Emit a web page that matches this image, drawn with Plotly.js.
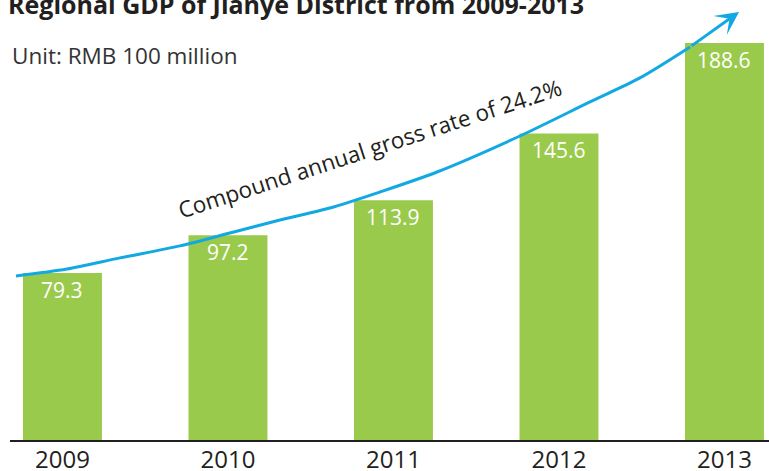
<!DOCTYPE html>
<html>
<head>
<meta charset="utf-8">
<script src="https://cdn.plot.ly/plotly-3.0.1.min.js"></script>
<style>html,body{margin:0;padding:0;background:#fff;}#chart{width:769px;height:471px;}</style>
</head>
<body>
<div id="chart"></div>
<script>
// Data
var years = ['2009', '2010', '2011', '2012', '2013'];
var gdp = [79.3, 97.2, 113.9, 145.6, 188.6];
var valueLabels = ['79.3', '97.2', '113.9', '145.6', '188.6'];
// growth arrow path (x in year index units, y in value units)
var curveX = [-0.281, 0.027, 0.347, 0.710, 1.012, 1.314, 1.616, 1.918, 2.263, 2.764, 3.187, 3.489, 3.792];
var curveY = [77.9, 81.2, 86.5, 92.2, 98.3, 104.5, 110.2, 117.8, 127.3, 144.4, 160.6, 172.0, 186.7];
var arrowTip = [4.088, 203.3];
var titleText = 'Regional GDP of Jianye District from 2009-2013';
var unitText = 'Unit: RMB 100 million';
var cagrText = 'Compound annual gross rate of 24.2%';

var idx = years.map(function (_, i) { return i; });
var FONT = '"Open Sans", "Noto Sans", sans-serif';

var bars = {
  type: 'bar',
  x: idx,
  y: gdp,
  width: 0.477,
  marker: { color: '#9aca4b', line: { width: 0 } },
  hoverinfo: 'none'
};
var curve = {
  type: 'scatter',
  mode: 'lines',
  x: curveX,
  y: curveY,
  line: { color: '#12a9e2', width: 3, shape: 'spline', smoothing: 0.8 },
  hoverinfo: 'none',
  cliponaxis: false
};

var annotations = gdp.map(function (v, i) {
  return {
    x: i, y: v, xref: 'x', yref: 'y',
    text: valueLabels[i], showarrow: false,
    yanchor: 'middle', yshift: -17,
    font: { family: FONT, size: 21, color: '#ffffff' }
  };
});
annotations.push({
  x: arrowTip[0], y: arrowTip[1], xref: 'x', yref: 'y',
  ax: curveX[curveX.length - 1], ay: curveY[curveY.length - 1], axref: 'x', ayref: 'y',
  showarrow: true, arrowhead: 3, arrowsize: 1.3, arrowwidth: 3, arrowcolor: '#12a9e2',
  text: ''
});
annotations.push({
  x: 1.858, y: 138.7, xref: 'x', yref: 'y',
  text: cagrText, showarrow: false, textangle: -18,
  font: { family: FONT, size: 22.5, color: '#231f20' }
});
annotations.push({
  x: 0, y: (440 - 55) / 440, xref: 'paper', yref: 'paper',
  xanchor: 'left', yanchor: 'middle',
  text: unitText, showarrow: false,
  font: { family: FONT, size: 22.5, color: '#333333' }
});

var layout = {
  width: 769, height: 471,
  margin: { l: 10, r: 0, t: 0, b: 31 },
  paper_bgcolor: '#ffffff', plot_bgcolor: '#ffffff',
  showlegend: false,
  title: {
    text: '<b>' + titleText + '</b>',
    x: 8 / 769, xanchor: 'left', xref: 'container',
    y: 1 - 5 / 471, yanchor: 'middle', yref: 'container',
    font: { family: FONT, size: 25, color: '#231f20' }
  },
  xaxis: {
    range: [-0.317, 4.269],
    tickmode: 'array', tickvals: idx, ticktext: years,
    showgrid: false, zeroline: false,
    showline: true, linecolor: '#231f20', linewidth: 1.5,
    ticks: '', ticklabelstandoff: -2,
    tickfont: { family: FONT, size: 24, color: '#231f20' },
    fixedrange: true
  },
  yaxis: {
    range: [0, 209.0],
    visible: false, showgrid: false, zeroline: false,
    fixedrange: true
  },
  annotations: annotations
};

Plotly.newPlot('chart', [bars, curve], layout, { displayModeBar: false, staticPlot: true });
</script>
</body>
</html>
